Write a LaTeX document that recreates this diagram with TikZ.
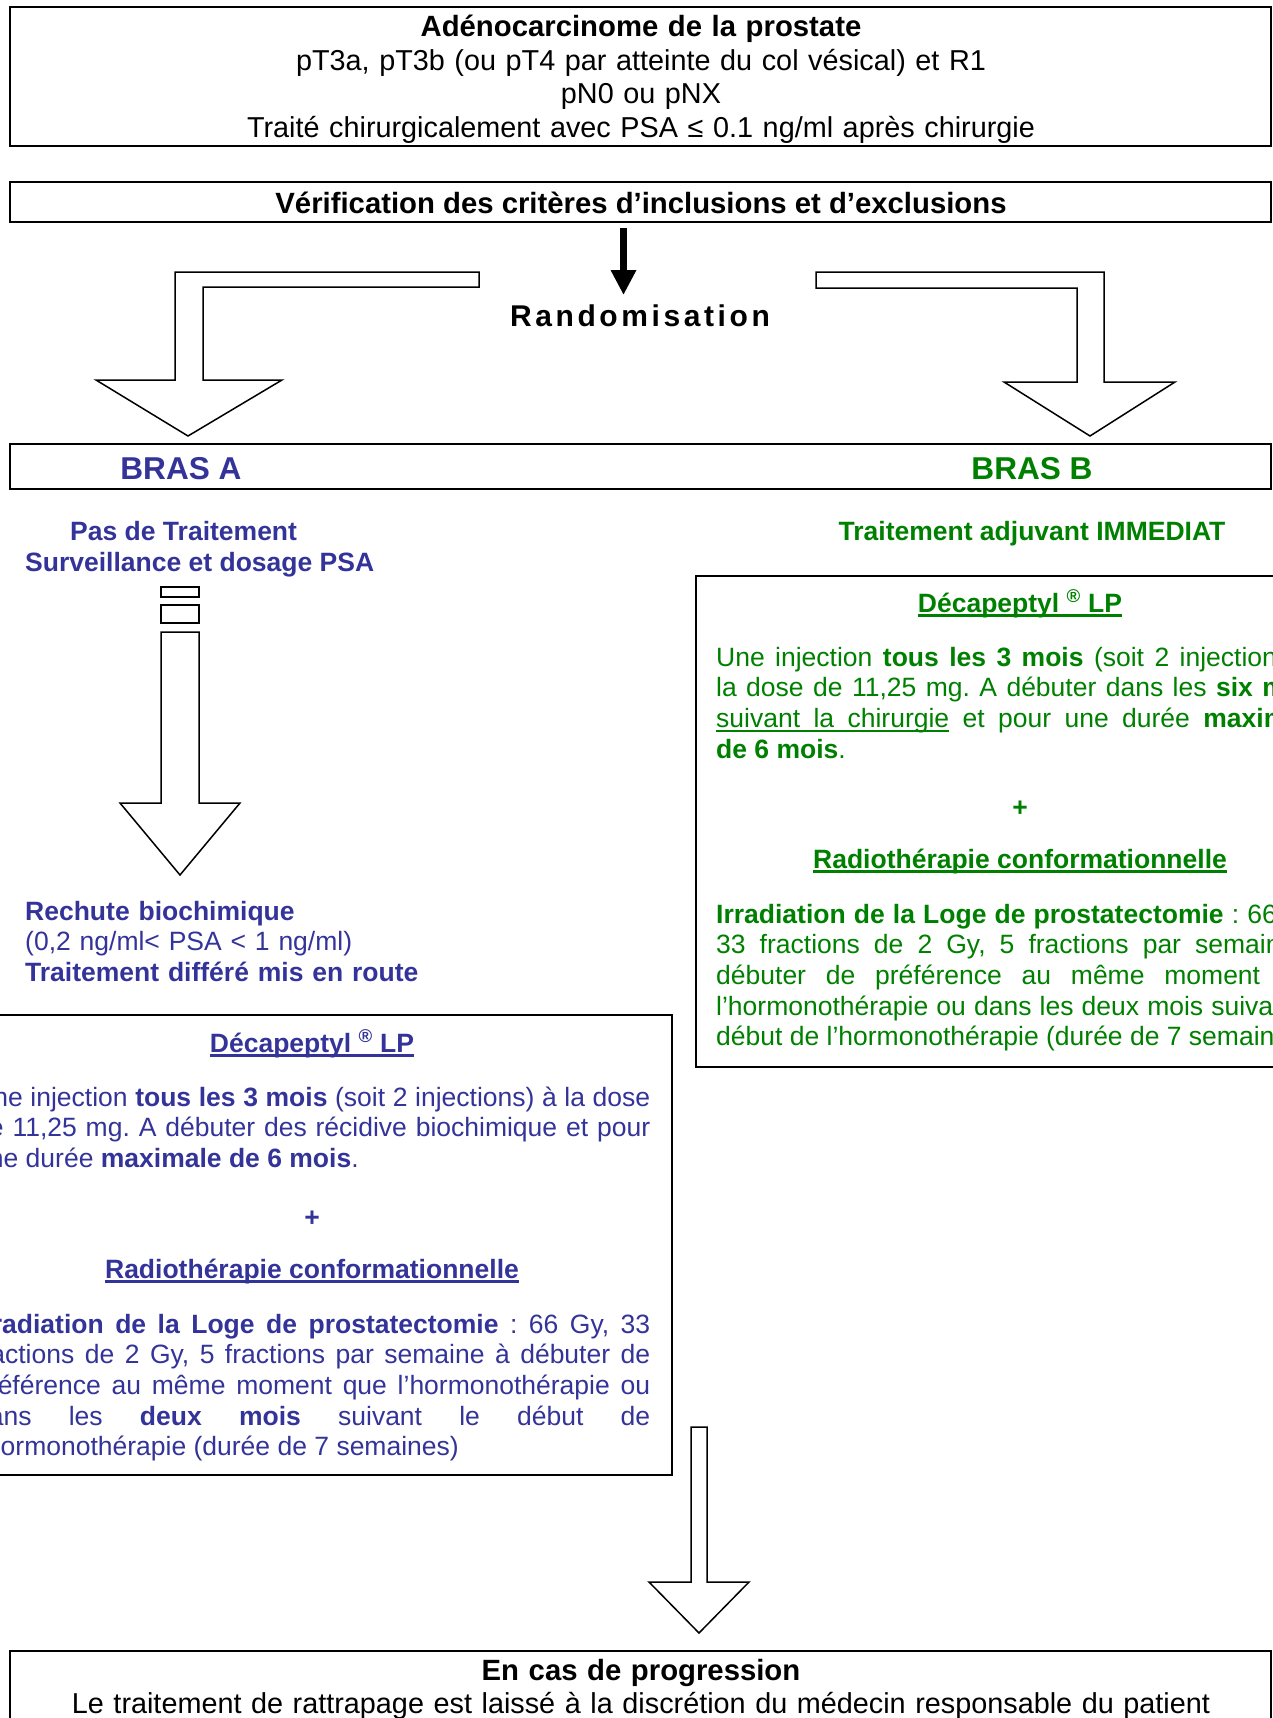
\documentclass[tikz,border=0pt]{standalone}
\usepackage{fontspec}
\setmainfont{Liberation Sans}
\newfontfamily\espacefont[LetterSpace=12]{Liberation Sans}
\usepackage{xcolor}
\usetikzlibrary{arrows.meta}

\definecolor{bleuA}{RGB}{51,51,153}
\definecolor{vertB}{RGB}{0,128,0}
\newcommand{\corps}{\fontsize{26.5pt}{30.7pt}\selectfont}
\newcommand{\grand}{\fontsize{28.8pt}{33.5pt}\selectfont}
\newcommand{\grandgras}{\fontsize{29.3pt}{33.5pt}\selectfont\bfseries}
\newcommand{\bras}{\fontsize{31.6pt}{36pt}\selectfont\bfseries}
% soulignement : filet sous une boite
\newcommand{\souligne}[1]{\leavevmode\setbox0\hbox{#1}%
  \rlap{\vrule height -2.4pt depth 5pt width \wd0}\box0\relax}
\newcommand{\mince}[1]{\leavevmode\setbox0\hbox{#1}%
  \rlap{\vrule height -2.6pt depth 4.2pt width \wd0}\box0\relax}
\newcommand{\espmince}{\leaders\hrule height -2.6pt depth 4.2pt
  \hskip\fontdimen2\font plus\fontdimen3\font minus\fontdimen4\font\relax}

\begin{document}
\frenchspacing\tolerance=10000\hbadness=10000\hyphenpenalty=10000
\begin{tikzpicture}[x=1pt, y=-1pt,
    boite/.style={line width=2.2pt},
    bloc/.style={line width=1.5pt, line join=miter, fill=white},
    txt/.style={inner sep=0pt, anchor=base},
    para/.style={inner sep=0pt, anchor=base west, align=justify, font=\corps}]
  \useasboundingbox (0,0) rectangle (1273,1718);
  \clip (0,0) rectangle (1273,1718);

  % cadres
  \draw[boite] (10,7) rectangle (1271,146);
  \draw[boite] (10,182) rectangle (1271,222);
  \draw[boite] (10,444) rectangle (1271,489);
  \draw[boite] (696,576) rectangle (1344,1067);
  \draw[boite] (-48,1015) rectangle (672,1475);
  \draw[boite] (10,1651) rectangle (1271,1760);

  % en-tete
  \node[txt, align=center, text width=1200pt, font=\grand] (patient) at (641,37)
    {{\grandgras Adénocarcinome de la prostate}\\
     pT3a, pT3b (ou pT4 par atteinte du col vésical) et R1\\
     pN0 ou pNX\\
     Traité chirurgicalement avec PSA ≤ 0.1 ng/ml après chirurgie};
  \node[txt, font=\grandgras] (verif) at (641,213)
    {Vérification des critères d’inclusions et d’exclusions};

  % tirage au sort
  \coordinate (tirage) at (623.5,228);
  \coordinate (tirage bout) at (623.5,295);
  \draw[line width=7pt, -{Triangle[width=24pt,length=25pt]}] (tirage) -- (tirage bout);
  \node[txt, font=\espacefont\bfseries\fontsize{30pt}{36pt}\selectfont] (rando) at (640,326) {Randomisation};

  \draw[bloc] (479,272) -- (175,272) -- (175,380) -- (96,380) -- (188,436)
    -- (282,380) -- (203,380) -- (203,287) -- (479,287) -- cycle;
  \draw[bloc] (816,272) -- (1104,272) -- (1104,382) -- (1175,382) -- (1090,436)
    -- (1004,382) -- (1077,382) -- (1077,288) -- (816,288) -- cycle;

  \node[txt, font=\bras, text=bleuA] (brasA) at (181,479) {BRAS A};
  \node[txt, font=\bras, text=vertB] (brasB) at (1032,479) {BRAS B};

  % bras A
  \node[txt, anchor=base west, font=\corps\bfseries, text=bleuA] (pas) at (70,540) {Pas de Traitement};
  \node[txt, anchor=base west, font=\corps\bfseries, text=bleuA] (surv) at (25,571) {Surveillance et dosage PSA};

  \draw[bloc] (161,587) rectangle (199,597);
  \draw[bloc] (161,605) rectangle (199,623);
  \draw[bloc] (161,632) -- (199,632) -- (199,803) -- (240,803) -- (180,875)
    -- (120,803) -- (161,803) -- cycle;

  \node[txt, anchor=base west, align=left, text width=600pt, font=\corps, text=bleuA] (rechute) at (25,920)
    {\textbf{Rechute biochimique}\\
     (0,2 ng/ml< PSA < 1 ng/ml)\\
     \textbf{Traitement différé mis en route}};

  \node[txt, font=\corps\bfseries, text=bleuA] (decaA) at (312,1052)
    {\souligne{Décapeptyl \textsuperscript{®} LP}};
  \node[para, text width=676pt, text=bleuA] (injA) at (-26,1106)
    {Une injection \textbf{tous les 3 mois} (soit 2 injections) à la dose\linebreak
     de 11,25 mg. A débuter des récidive biochimique et pour\linebreak
     une durée \textbf{maximale de 6 mois}.};
  \node[txt, font=\corps\bfseries, text=bleuA] (plusA) at (312,1226) {+};
  \node[txt, font=\corps\bfseries, text=bleuA] (radioA) at (312,1278)
    {\souligne{Radiothérapie conformationnelle}};
  \node[para, text width=676pt, text=bleuA] (irrA) at (-26,1333)
    {\textbf{Irradiation de la Loge de prostatectomie} : 66 Gy, 33\linebreak
     fractions de 2 Gy, 5 fractions par semaine à débuter de\linebreak
     préférence au même moment que l’hormonothérapie ou\linebreak
     dans les \textbf{deux mois} suivant le début de\linebreak
     l’hormonothérapie (durée de 7 semaines)};

  % bras B
  \node[txt, font=\corps\bfseries, text=vertB] (adjuvant) at (1032,540) {Traitement adjuvant IMMEDIAT};

  \node[txt, font=\corps\bfseries, text=vertB] (decaB) at (1020,612)
    {\souligne{Décapeptyl }{\color{bleuA}\souligne{\color{vertB}\textsuperscript{®}}}\souligne{ LP}};
  \node[para, text width=608pt, text=vertB] (injB) at (716,666)
    {Une injection \textbf{tous les 3 mois} (soit 2 injections) à\linebreak
     la dose de 11,25 mg. A débuter dans les \textbf{six mois}\linebreak
     \mince{suivant}\espmince\mince{la}\espmince\mince{chirurgie} et pour une durée \textbf{maximale}\linebreak
     \textbf{de 6 mois}.};
  \node[txt, font=\corps\bfseries, text=vertB] (plusB) at (1020,816) {+};
  \node[txt, font=\corps\bfseries, text=vertB] (radioB) at (1020,868)
    {\souligne{Radiothérapie conformationnelle}};
  \node[para, text width=608pt, text=vertB] (irrB) at (716,923)
    {\textbf{Irradiation de la Loge de prostatectomie} : 66 Gy,\linebreak
     33 fractions de 2 Gy, 5 fractions par semaine à\linebreak
     débuter de préférence au même moment que\linebreak
     l’hormonothérapie ou dans les deux mois suivant le\linebreak
     début de l’hormonothérapie (durée de 7 semaines)};

  % progression
  \draw[bloc] (691,1427) -- (707,1427) -- (707,1582) -- (749,1582) -- (699,1633)
    -- (649,1582) -- (691,1582) -- cycle;
  \node[txt, align=center, text width=1200pt, font=\fontsize{28.8pt}{33pt}\selectfont] (progression) at (641,1680)
    {{\grandgras En cas de progression}\\
     Le traitement de rattrapage est laissé à la discrétion du médecin responsable du patient};
\end{tikzpicture}
\end{document}
